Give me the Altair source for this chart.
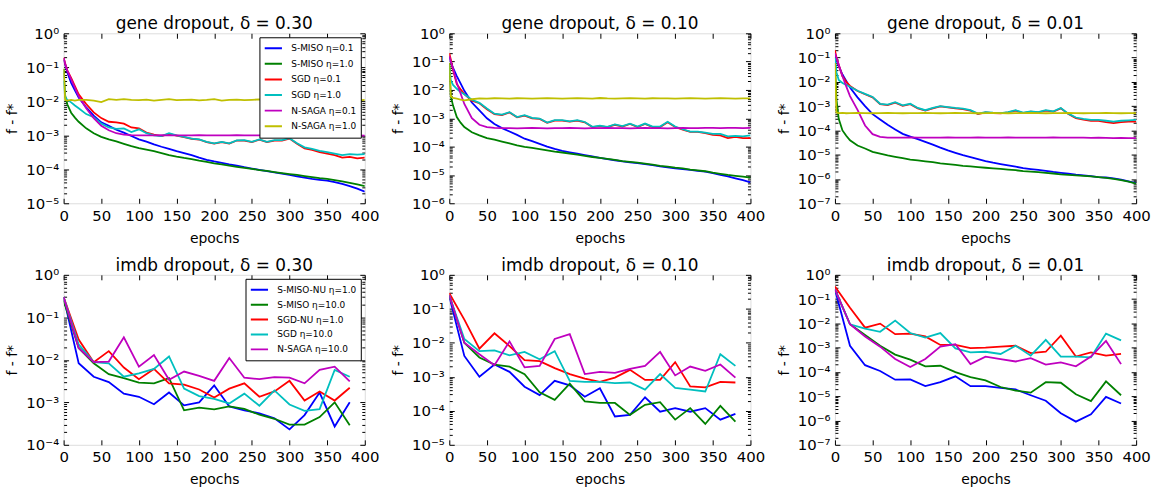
import altair as alt
import pandas as pd

# ---------------- data ----------------
GENE_EPOCHS = [0, 2, 5, 10, 15, 20] + list(range(30, 401, 10))
IMDB_EPOCHS = list(range(0, 381, 20))

GENE_NAMES = ["S-MISO η=0.1", "S-MISO η=1.0", "SGD η=0.1", "SGD η=1.0", "N-SAGA η=0.1", "N-SAGA η=1.0"]
IMDB_NAMES = ["S-MISO-NU η=1.0", "S-MISO η=10.0", "SGD-NU η=1.0", "SGD η=10.0", "N-SAGA η=10.0"]
GENE_COLORS = ["#0000ff", "#008000", "#ff0000", "#00bfbf", "#bf00bf", "#bfbf00"]
IMDB_COLORS = ["#0000ff", "#008000", "#ff0000", "#00bfbf", "#bf00bf"]

# gene dropout, delta = 0.30
g30_smiso01 = [0.17, 0.12, 7e-2, 3.5e-2, 2.1e-2, 1.3e-2,
               6.6e-3, 3.8e-3, 2.4e-3, 1.9e-3, 1.45e-3, 1.2e-3, 9.5e-4, 7.6e-4, 6.5e-4, 5.4e-4,
               4.6e-4, 4.0e-4, 3.4e-4, 3.0e-4, 2.6e-4, 2.2e-4, 1.9e-4, 1.7e-4, 1.55e-4, 1.4e-4,
               1.28e-4, 1.15e-4, 1.05e-4, 9.6e-5, 8.8e-5, 8.1e-5, 7.4e-5, 6.8e-5, 6.2e-5, 5.7e-5,
               5.2e-5, 4.9e-5, 4.6e-5, 4.2e-5, 3.7e-5, 3.2e-5, 2.7e-5, 2.2e-5]
g30_smiso10 = [9e-2, 1.5e-2, 8e-3, 4.6e-3, 3.3e-3, 2.5e-3,
               1.6e-3, 1.15e-3, 9e-4, 7.6e-4, 6.6e-4, 5.6e-4, 4.8e-4, 4.2e-4, 3.8e-4, 3.4e-4,
               3.0e-4, 2.6e-4, 2.35e-4, 2.15e-4, 2.0e-4, 1.8e-4, 1.65e-4, 1.5e-4, 1.4e-4, 1.28e-4,
               1.18e-4, 1.1e-4, 1.03e-4, 9.5e-5, 9e-5, 8.3e-5, 7.7e-5, 7.2e-5, 6.8e-5, 6.3e-5,
               5.9e-5, 5.5e-5, 5.2e-5, 4.8e-5, 4.4e-5, 4.0e-5, 3.6e-5, 3.2e-5]
g30_sgd01 = [0.19, 0.13, 8e-2, 4.9e-2, 2.8e-2, 1.6e-2,
             8.3e-3, 4.7e-3, 3.2e-3, 2.5e-3, 2.4e-3, 2.2e-3, 1.7e-3, 1.6e-3, 1.2e-3, 1.05e-3,
             9.5e-4, 1.1e-3, 9.8e-4, 8.8e-4, 7.9e-4, 7.5e-4, 6.3e-4, 5.7e-4, 6.3e-4, 5.7e-4,
             7.0e-4, 7.0e-4, 6.3e-4, 7.4e-4, 6.3e-4, 7.0e-4, 7.0e-4, 8.0e-4, 5.6e-4, 4.1e-4,
             3.7e-4, 3.2e-4, 2.9e-4, 2.6e-4, 2.2e-4, 2.3e-4, 2.1e-4, 2.2e-4]
g30_sgd10 = [4e-2, 1.3e-2, 1.1e-2, 9.3e-3, 7.5e-3, 6.2e-3,
             4.2e-3, 3.4e-3, 2.2e-3, 1.7e-3, 1.55e-3, 1.6e-3, 1.25e-3, 1.5e-3, 1.15e-3, 1.0e-3,
             9.5e-4, 1.15e-3, 1.0e-3, 9e-4, 8e-4, 7.6e-4, 6.4e-4, 5.8e-4, 6.4e-4, 5.8e-4,
             7.1e-4, 7.2e-4, 6.4e-4, 7.6e-4, 6.4e-4, 7.2e-4, 7.2e-4, 8.2e-4, 5.8e-4, 4.4e-4,
             4.0e-4, 3.5e-4, 3.2e-4, 2.9e-4, 2.6e-4, 2.8e-4, 2.7e-4, 2.8e-4]
g30_nsaga01 = [0.19, 0.13, 8e-2, 4.4e-2, 2.5e-2, 1.4e-2,
               6.2e-3, 3.2e-3, 1.9e-3, 1.4e-3, 1.15e-3, 1.04e-3, 1.01e-3,
               1.0e-3, 9.9e-4, 1.0e-3, 1.01e-3, 1.0e-3, 9.9e-4, 1.0e-3, 1.0e-3, 1.01e-3, 1.0e-3,
               9.9e-4, 1.0e-3, 1.0e-3, 1.01e-3, 1.0e-3, 9.9e-4, 1.0e-3, 1.0e-3, 1.0e-3, 1.01e-3,
               1.0e-3, 9.9e-4, 1.0e-3, 1.0e-3, 1.0e-3, 1.01e-3, 1.0e-3, 9.9e-4, 1.0e-3, 1.0e-3, 9.8e-4]
g30_nsaga10 = [9e-2, 1.1e-2, 1.05e-2, 1.1e-2, 1.05e-2, 1.1e-2,
               1.1e-2, 1.05e-2, 9.5e-3, 1.15e-2, 1.1e-2, 1.15e-2, 1.1e-2, 1.08e-2, 1.12e-2, 1.05e-2,
               1.1e-2, 1.15e-2, 1.08e-2, 1.1e-2, 1.12e-2, 1.07e-2, 1.1e-2, 1.15e-2, 1.05e-2, 1.1e-2,
               1.12e-2, 1.08e-2, 1.1e-2, 1.13e-2, 1.07e-2, 1.1e-2, 1.12e-2, 1.08e-2, 1.1e-2, 1.12e-2,
               1.07e-2, 1.1e-2, 1.13e-2, 1.08e-2, 1.1e-2, 1.12e-2, 1.07e-2, 1.1e-2]

# gene dropout, delta = 0.10
g10_smiso01 = [0.15, 0.1, 6e-2, 3.1e-2, 1.7e-2, 9.3e-3,
               3.6e-3, 1.9e-3, 1.0e-3, 6.3e-4, 4.5e-4, 3.4e-4, 2.6e-4, 1.9e-4, 1.55e-4, 1.25e-4,
               1.0e-4, 8.3e-5, 7.1e-5, 6.3e-5, 5.6e-5, 5e-5, 4.5e-5, 4.0e-5, 3.6e-5, 3.3e-5,
               3.0e-5, 2.8e-5, 2.6e-5, 2.4e-5, 2.2e-5, 2.0e-5, 1.85e-5, 1.7e-5, 1.6e-5, 1.5e-5,
               1.4e-5, 1.3e-5, 1.15e-5, 1.0e-5, 8.9e-6, 7.6e-6, 6.5e-6, 5.5e-6]
g10_smiso10 = [9e-2, 6e-3, 2.8e-3, 1.1e-3, 7e-4, 4.9e-4,
               3.2e-4, 2.5e-4, 2.0e-4, 1.75e-4, 1.5e-4, 1.3e-4, 1.1e-4, 9.8e-5, 9e-5, 8.2e-5,
               7.4e-5, 6.7e-5, 6.2e-5, 5.7e-5, 5.2e-5, 4.7e-5, 4.3e-5, 4.0e-5, 3.7e-5, 3.4e-5,
               3.1e-5, 2.9e-5, 2.7e-5, 2.5e-5, 2.3e-5, 2.1e-5, 1.95e-5, 1.8e-5, 1.7e-5, 1.55e-5,
               1.45e-5, 1.35e-5, 1.2e-5, 1.1e-5, 1.0e-5, 9.3e-6, 8.7e-6, 8.1e-6]
g10_sgd01 = [0.2, 0.12, 5e-2, 1.6e-2, 1.05e-2, 7.1e-3,
             4.2e-3, 3.4e-3, 2.1e-3, 1.4e-3, 1.3e-3, 1.6e-3, 1.08e-3, 1.24e-3, 1.0e-3, 9.5e-4,
             6.9e-4, 8.3e-4, 8.3e-4, 7.6e-4, 8.3e-4, 7.2e-4, 4.9e-4, 5.3e-4, 4.9e-4, 5.9e-4,
             5.1e-4, 6.3e-4, 4.9e-4, 6.3e-4, 4.9e-4, 4.9e-4, 7.2e-4, 4.9e-4, 4.0e-4, 3.3e-4,
             3.3e-4, 3.0e-4, 2.6e-4, 2.5e-4, 2.0e-4, 2.2e-4, 2.0e-4, 2.0e-4]
g10_sgd10 = [8e-2, 2.2e-2, 1.5e-2, 1.1e-2, 8.5e-3, 7.1e-3,
             4.5e-3, 3.5e-3, 2.2e-3, 1.45e-3, 1.35e-3, 1.65e-3, 1.1e-3, 1.28e-3, 1.03e-3, 9.8e-4,
             7.1e-4, 8.6e-4, 8.6e-4, 7.8e-4, 8.6e-4, 7.4e-4, 5.0e-4, 5.5e-4, 5.0e-4, 6.1e-4,
             5.3e-4, 6.5e-4, 5.1e-4, 6.5e-4, 5.1e-4, 5.1e-4, 7.5e-4, 5.1e-4, 4.1e-4, 3.4e-4,
             3.4e-4, 3.1e-4, 2.8e-4, 2.8e-4, 2.3e-4, 2.4e-4, 2.3e-4, 2.5e-4]
g10_nsaga01 = [0.16, 0.1, 5.5e-2, 1.8e-2, 7.5e-3, 3.2e-3,
               1.0e-3, 5.9e-4, 4.9e-4, 4.6e-4,
               4.5e-4, 4.5e-4, 4.4e-4, 4.5e-4, 4.6e-4, 4.5e-4, 4.4e-4, 4.5e-4, 4.5e-4, 4.6e-4,
               4.5e-4, 4.4e-4, 4.5e-4, 4.5e-4, 4.6e-4, 4.5e-4, 4.5e-4, 4.4e-4, 4.5e-4, 4.6e-4,
               4.5e-4, 4.5e-4, 4.4e-4, 4.5e-4, 4.6e-4, 4.5e-4, 4.5e-4, 4.6e-4, 4.6e-4, 4.5e-4,
               4.6e-4, 4.6e-4, 4.5e-4, 4.6e-4]
g10_nsaga10 = [9e-2, 6e-3, 5.2e-3, 4.9e-3, 4.6e-3, 4.3e-3,
               4.7e-3, 5.0e-3, 4.9e-3, 5.1e-3, 5.0e-3, 4.9e-3, 5.1e-3, 5.0e-3, 4.9e-3, 5.0e-3,
               5.1e-3, 5.0e-3, 4.9e-3, 5.0e-3, 5.1e-3, 5.0e-3, 4.9e-3, 5.2e-3, 5.0e-3, 4.9e-3,
               5.0e-3, 5.1e-3, 5.0e-3, 4.9e-3, 5.1e-3, 5.0e-3, 5.0e-3, 4.9e-3, 5.0e-3, 5.1e-3,
               5.0e-3, 4.9e-3, 5.0e-3, 5.1e-3, 5.0e-3, 4.9e-3, 5.0e-3, 5.0e-3]

# gene dropout, delta = 0.01
g01_smiso01 = [0.11, 8e-2, 4.5e-2, 2e-2, 1.1e-2, 5.8e-3,
               2.3e-3, 1.0e-3, 4.7e-4, 2.8e-4, 1.7e-4, 1.1e-4, 7.2e-5, 5.6e-5, 4.4e-5, 3.4e-5,
               2.6e-5, 1.95e-5, 1.5e-5, 1.2e-5, 9.6e-6, 8e-6, 6.6e-6, 5.5e-6, 4.7e-6, 4.1e-6,
               3.6e-6, 3.2e-6, 2.8e-6, 2.55e-6, 2.35e-6, 2.15e-6, 1.95e-6, 1.8e-6, 1.65e-6, 1.5e-6,
               1.4e-6, 1.3e-6, 1.2e-6, 1.15e-6, 1.05e-6, 9.5e-7, 8e-7, 6.7e-7]
g01_smiso10 = [6e-2, 1.9e-3, 3e-4, 1e-4, 6e-5, 3.9e-5,
               2.4e-5, 1.8e-5, 1.3e-5, 1.1e-5, 9.3e-6, 8.2e-6, 7.2e-6, 6.3e-6, 5.8e-6, 5.3e-6,
               4.9e-6, 4.4e-6, 4.1e-6, 3.8e-6, 3.5e-6, 3.3e-6, 3.1e-6, 2.9e-6, 2.75e-6, 2.6e-6,
               2.45e-6, 2.3e-6, 2.1e-6, 2.0e-6, 1.9e-6, 1.8e-6, 1.68e-6, 1.56e-6, 1.48e-6, 1.4e-6,
               1.33e-6, 1.27e-6, 1.2e-6, 1.1e-6, 1.0e-6, 9e-7, 7.8e-7, 6.5e-7]
g01_sgd01 = [0.2, 0.1, 5e-2, 1.7e-2, 1.0e-2, 6.8e-3,
             4.2e-3, 3.1e-3, 2.3e-3, 1.2e-3, 1.1e-3, 1.4e-3, 1.03e-3, 1.2e-3, 8.1e-4, 6.5e-4,
             8.1e-4, 9.7e-4, 8.9e-4, 8.1e-4, 7.6e-4, 6.5e-4, 4.7e-4, 5.5e-4, 5.2e-4, 5.0e-4,
             5.5e-4, 6.5e-4, 5.2e-4, 5.9e-4, 5.5e-4, 6.5e-4, 5.9e-4, 8.1e-4, 4.7e-4, 3.2e-4,
             2.8e-4, 2.5e-4, 2.5e-4, 2.2e-4, 2.0e-4, 2.2e-4, 2.3e-4, 2.3e-4]
g01_sgd10 = [0.1, 2.5e-2, 1.2e-2, 9e-3, 7.5e-3, 6.3e-3,
             4.3e-3, 3.2e-3, 2.4e-3, 1.25e-3, 1.15e-3, 1.45e-3, 1.07e-3, 1.25e-3, 8.4e-4, 6.8e-4,
             8.4e-4, 1.0e-3, 9.2e-4, 8.4e-4, 7.9e-4, 6.8e-4, 4.9e-4, 5.7e-4, 5.4e-4, 5.2e-4,
             5.7e-4, 6.8e-4, 5.4e-4, 6.1e-4, 5.7e-4, 6.8e-4, 6.1e-4, 8.4e-4, 4.9e-4, 3.4e-4,
             3.0e-4, 2.7e-4, 2.7e-4, 2.5e-4, 2.3e-4, 2.5e-4, 2.6e-4, 2.7e-4]
g01_nsaga01 = [0.15, 0.1, 5e-2, 1.7e-2, 6.5e-3, 2.6e-3,
               7e-4, 1.6e-4, 7e-5, 5.4e-5,
               5.1e-5, 5.0e-5, 5.1e-5, 5.2e-5, 5.0e-5, 5.1e-5, 5.1e-5, 5.0e-5, 5.2e-5, 5.1e-5,
               5.0e-5, 5.1e-5, 5.2e-5, 5.1e-5, 5.0e-5, 5.1e-5, 5.2e-5, 5.1e-5, 5.0e-5, 5.1e-5,
               5.1e-5, 5.0e-5, 5.2e-5, 5.1e-5, 5.0e-5, 5.1e-5, 5.0e-5, 4.9e-5, 5.0e-5, 4.9e-5,
               4.8e-5, 4.9e-5, 4.8e-5, 4.8e-5]
g01_nsaga10 = [6e-2, 5.5e-4, 5.2e-4, 5.3e-4, 5.1e-4, 5.2e-4,
               5.3e-4, 5.2e-4, 5.1e-4, 5.2e-4, 5.3e-4, 5.2e-4, 5.1e-4, 5.2e-4, 5.2e-4, 5.3e-4,
               5.2e-4, 5.1e-4, 5.2e-4, 5.3e-4, 5.2e-4, 5.2e-4, 5.1e-4, 5.2e-4, 5.3e-4, 5.2e-4,
               5.1e-4, 5.2e-4, 5.2e-4, 5.3e-4, 5.2e-4, 5.1e-4, 5.2e-4, 5.2e-4, 5.3e-4, 5.2e-4,
               5.1e-4, 5.2e-4, 5.2e-4, 5.3e-4, 5.2e-4, 5.1e-4, 5.2e-4, 5.2e-4]

# imdb dropout, delta = 0.30
i30_smisonu = [0.3, 8.3e-3, 4e-3, 3e-3, 1.6e-3, 1.35e-3, 9e-4, 1.7e-3, 8.5e-4, 1.0e-3,
               2.5e-3, 8e-4, 6.5e-4, 5.5e-4, 4.2e-4, 2.3e-4, 5e-4, 1.7e-3, 2.7e-4, 1.0e-3]
i30_smiso = [0.25, 1.9e-2, 8.3e-3, 4.6e-3, 3.7e-3, 2.9e-3, 2.8e-3, 3.7e-3, 6.5e-4, 7.5e-4,
             6.8e-4, 8e-4, 7e-4, 5.1e-4, 4.1e-4, 3e-4, 3e-4, 4.5e-4, 1e-3, 2.9e-4]
i30_sgdnu = [0.3, 3e-2, 8.8e-3, 1.6e-2, 6.6e-3, 3.5e-3, 6.1e-3, 2.8e-3, 2.6e-3, 2e-3,
             1.3e-3, 2.1e-3, 2.8e-3, 1.35e-3, 1.8e-3, 3.2e-3, 1.1e-3, 1.8e-3, 1.1e-3, 2.2e-3]
i30_sgd = [0.3, 2.3e-2, 8.8e-3, 8.3e-3, 4e-3, 4.8e-3, 6.1e-3, 1.2e-2, 2.1e-3, 1.4e-3,
           1.2e-3, 9.4e-4, 1.6e-3, 8.3e-4, 1.9e-3, 8.9e-4, 6.3e-4, 6.9e-4, 5.8e-3, 4e-3]
i30_nsaga = [0.3, 1.9e-2, 8.8e-3, 9.1e-3, 3.4e-2, 6.9e-3, 1.3e-2, 3.4e-3, 5.3e-3, 4.2e-3,
             3.2e-3, 1.1e-2, 3.8e-3, 3.5e-3, 3.9e-3, 3.8e-3, 2.8e-3, 5.8e-3, 6.9e-3, 3.1e-3]

# imdb dropout, delta = 0.10
i10_smisonu = [0.23, 4.1e-3, 1e-3, 2.3e-3, 1.4e-3, 5.1e-4, 2.9e-4, 7.6e-4, 5.6e-4, 2.6e-4,
               4.6e-4, 6.8e-5, 7.6e-5, 2.5e-4, 9.4e-5, 1.2e-4, 9.4e-5, 1.2e-4, 5.5e-5, 8.1e-5]
i10_smiso = [0.25, 1e-2, 3.7e-3, 2.3e-3, 2e-3, 1.2e-3, 3.5e-4, 2.1e-4, 6.3e-4, 1.9e-4,
             1.7e-4, 1.7e-4, 7.6e-5, 1.5e-4, 1.8e-4, 5.5e-5, 1.2e-4, 4.1e-5, 1.4e-4, 4.8e-5]
i10_sgdnu = [0.29, 4.8e-2, 6.7e-3, 1.9e-2, 8e-3, 3.1e-3, 2.9e-3, 1.8e-3, 1.2e-3, 8.9e-4,
             7.1e-4, 9.5e-4, 1.6e-3, 8.1e-4, 8.1e-4, 2.7e-3, 5.2e-4, 4.9e-4, 7.1e-4, 6.8e-4]
i10_sgd = [0.25, 1.3e-2, 5.7e-3, 6e-3, 4.3e-3, 5.4e-3, 3.3e-3, 5.7e-3, 7.6e-4, 7.1e-4,
           7.1e-4, 6.5e-4, 6.8e-4, 4.2e-4, 1.2e-3, 4.7e-4, 4.2e-4, 3.7e-4, 4.6e-3, 2.1e-3]
i10_nsaga = [0.25, 1e-2, 4.6e-3, 2.2e-3, 1.1e-2, 1.9e-3, 2.1e-3, 1.3e-2, 1.8e-2, 1.2e-3,
             1.4e-3, 1.3e-3, 1.7e-3, 2.1e-3, 5.4e-3, 1.1e-3, 2e-3, 1.5e-3, 2.3e-3, 9.5e-4]

# imdb dropout, delta = 0.01
i01_smisonu = [0.25, 1.2e-3, 1.9e-4, 1.1e-4, 4.8e-5, 4.9e-5, 2.6e-5, 3.8e-5, 6.6e-5, 2.6e-5,
               2.6e-5, 2.2e-5, 1.9e-5, 1.1e-5, 6.5e-6, 2e-6, 9e-7, 1.8e-6, 9.4e-6, 5e-6]
i01_smiso = [0.25, 9.2e-3, 3.3e-3, 1.2e-3, 5.2e-4, 3.2e-4, 1.7e-4, 1.8e-4, 9.8e-5, 6.1e-5,
             4.5e-5, 2.4e-5, 1.7e-5, 1.4e-5, 3.8e-5, 3.6e-5, 1.2e-5, 6.3e-6, 4.1e-5, 1.1e-5]
i01_sgdnu = [0.33, 4.4e-2, 6.7e-3, 9.8e-3, 3.6e-3, 3.8e-3, 2.9e-3, 1.3e-3, 1.3e-3, 9.6e-4,
             1.0e-3, 1.1e-3, 1.2e-3, 6e-4, 6.8e-4, 3.1e-3, 4.3e-4, 6.4e-4, 4.7e-4, 5.5e-4]
i01_sgd = [0.25, 9.2e-3, 6.1e-3, 4.5e-3, 1.3e-2, 4e-3, 2.6e-3, 4e-3, 9.3e-4, 6.4e-4,
           6.8e-4, 5.5e-4, 1.2e-3, 4.7e-4, 2.1e-3, 4.3e-4, 4.3e-4, 4e-4, 3.8e-3, 2e-3]
i01_nsaga = [0.25, 9.2e-3, 2.9e-3, 1.1e-3, 3.4e-4, 1.6e-4, 3.4e-4, 1.1e-3, 1.4e-3, 2.1e-4,
             4.3e-4, 3.4e-4, 2.7e-4, 3.7e-4, 2e-4, 2.5e-4, 1.7e-4, 4.3e-4, 1.9e-3, 2.1e-4]

X_TICKS = [0, 50, 100, 150, 200, 250, 300, 350, 400]

# ---------------- helpers ----------------
FONT = "DejaVu Sans"
IS_DECADE = "abs(log(datum.value)/LN10 - round(log(datum.value)/LN10)) < 0.01"
LABEL_EXPR = ("(" + IS_DECADE + ") ? '10' + (datum.value < 0.5 ? '⁻' : '') + "
              "['⁰','¹','²','³','⁴','⁵','⁶','⁷','⁸','⁹'][abs(round(log(datum.value)/LN10))] : ''")
Y_DASH = {"condition": {"test": IS_DECADE, "value": [5, 3000]}, "value": [3, 3000]}


def long_df(epochs, names, arrays):
    rows = []
    for name, arr in zip(names, arrays):
        assert len(arr) == len(epochs), (name, len(arr))
        for e, v in zip(epochs, arr):
            rows.append({"epoch": e, "value": v, "series": name})
    return pd.DataFrame(rows)


def panel(title, df, names, colors, ymin_exp, legend):
    yvals = [m * 10.0 ** e for e in range(ymin_exp, 0) for m in range(1, 10)] + [1.0]
    xscale = alt.Scale(domain=[0, 400], nice=False)
    yscale = alt.Scale(type="log", domain=[10.0 ** ymin_exp, 1], nice=False)
    cscale = alt.Scale(domain=names, range=colors)
    x_main = alt.Axis(values=X_TICKS, title="epochs", labelFontSize=15, titleFontSize=14,
                      labelFont=FONT, titleFont=FONT, titleFontWeight="normal",
                      ticks=False, domain=False, grid=True, gridColor="black", gridOpacity=1,
                      gridWidth=1, gridDash=[5, 3000], labelPadding=5, titlePadding=8,
                      labelColor="black", titleColor="black", labelFlush=False)
    y_main = alt.Axis(values=yvals, labelExpr=LABEL_EXPR, title="f - f*", labelFontSize=15,
                      titleFontSize=14, labelFont=FONT, titleFont=FONT, titleFontWeight="normal",
                      ticks=False, domain=False, grid=True, gridColor="black", gridOpacity=1,
                      gridWidth=1, gridDash=Y_DASH, labelPadding=5, titlePadding=6,
                      labelColor="black", titleColor="black", labelOverlap=False, labelFlush=False)
    x_top = alt.Axis(orient="top", values=X_TICKS, labels=False, ticks=False, domain=False,
                     title=None, grid=True, gridColor="black", gridOpacity=1, gridWidth=1,
                     gridDash=[5, 3000])
    y_right = alt.Axis(orient="right", values=yvals, labels=False, ticks=False, domain=False,
                       title=None, grid=True, gridColor="black", gridOpacity=1, gridWidth=1,
                       gridDash=Y_DASH)
    layers = []
    for i, name in enumerate(names):
        sub = df[df.series == name]
        layers.append(
            alt.Chart(sub).mark_line(strokeWidth=1.8, clip=True).encode(
                x=alt.X("epoch:Q", scale=xscale, axis=x_main if i == 0 else None),
                y=alt.Y("value:Q", scale=yscale, axis=y_main if i == 0 else None),
                color=alt.Color("series:N", scale=cscale, legend=legend),
            )
        )
    axis_layer = alt.Chart(df).mark_point(opacity=0).encode(
        x=alt.X("epoch:Q", scale=xscale, axis=x_top),
        y=alt.Y("value:Q", scale=yscale, axis=y_right),
    )
    return (
        alt.layer(*layers, axis_layer)
        .resolve_axis(x="independent", y="independent")
        .properties(width=303, height=171,
                    title=alt.TitleParams(title, fontSize=17, font=FONT, fontWeight="normal",
                                          offset=-7, color="black"))
    )


def make_legend(row_pad, pad):
    return alt.Legend(orient="top-right", offset=4, title=None, symbolType="stroke",
                      symbolStrokeWidth=2, symbolSize=300, labelFontSize=9, labelFont=FONT,
                      labelColor="black", strokeColor="black", fillColor="white", padding=pad,
                      rowPadding=row_pad, clipHeight=14, labelOffset=8, cornerRadius=0)


gene_sets = [
    ("gene dropout, δ = 0.30", [g30_smiso01, g30_smiso10, g30_sgd01, g30_sgd10, g30_nsaga01, g30_nsaga10], -5),
    ("gene dropout, δ = 0.10", [g10_smiso01, g10_smiso10, g10_sgd01, g10_sgd10, g10_nsaga01, g10_nsaga10], -6),
    ("gene dropout, δ = 0.01", [g01_smiso01, g01_smiso10, g01_sgd01, g01_sgd10, g01_nsaga01, g01_nsaga10], -7),
]
imdb_sets = [
    ("imdb dropout, δ = 0.30", [i30_smisonu, i30_smiso, i30_sgdnu, i30_sgd, i30_nsaga], -4),
    ("imdb dropout, δ = 0.10", [i10_smisonu, i10_smiso, i10_sgdnu, i10_sgd, i10_nsaga], -5),
    ("imdb dropout, δ = 0.01", [i01_smisonu, i01_smiso, i01_sgdnu, i01_sgd, i01_nsaga], -7),
]

top = []
for k, (t, arrs, lo) in enumerate(gene_sets):
    df = long_df(GENE_EPOCHS, GENE_NAMES, arrs)
    top.append(panel(t, df, GENE_NAMES, GENE_COLORS, lo, make_legend(1.7, 4) if k == 0 else None))
bottom = []
for k, (t, arrs, lo) in enumerate(imdb_sets):
    df = long_df(IMDB_EPOCHS, IMDB_NAMES, arrs)
    bottom.append(panel(t, df, IMDB_NAMES, IMDB_COLORS, lo, make_legend(1, 4) if k == 0 else None))

row1 = alt.hconcat(*top, spacing=85, bounds="flush").resolve_scale(color="independent")
row2 = alt.hconcat(*bottom, spacing=85, bounds="flush").resolve_scale(color="independent")

chart = (
    alt.vconcat(row1, row2, spacing=10)
    .resolve_scale(color="independent")
    .properties(padding={"left": 5, "top": 13, "right": 5, "bottom": 5})
    .configure_view(stroke="black", strokeWidth=1)
    .configure(background="white")
)

chart.save("out.html", embed_options={"renderer": "svg", "actions": False})
